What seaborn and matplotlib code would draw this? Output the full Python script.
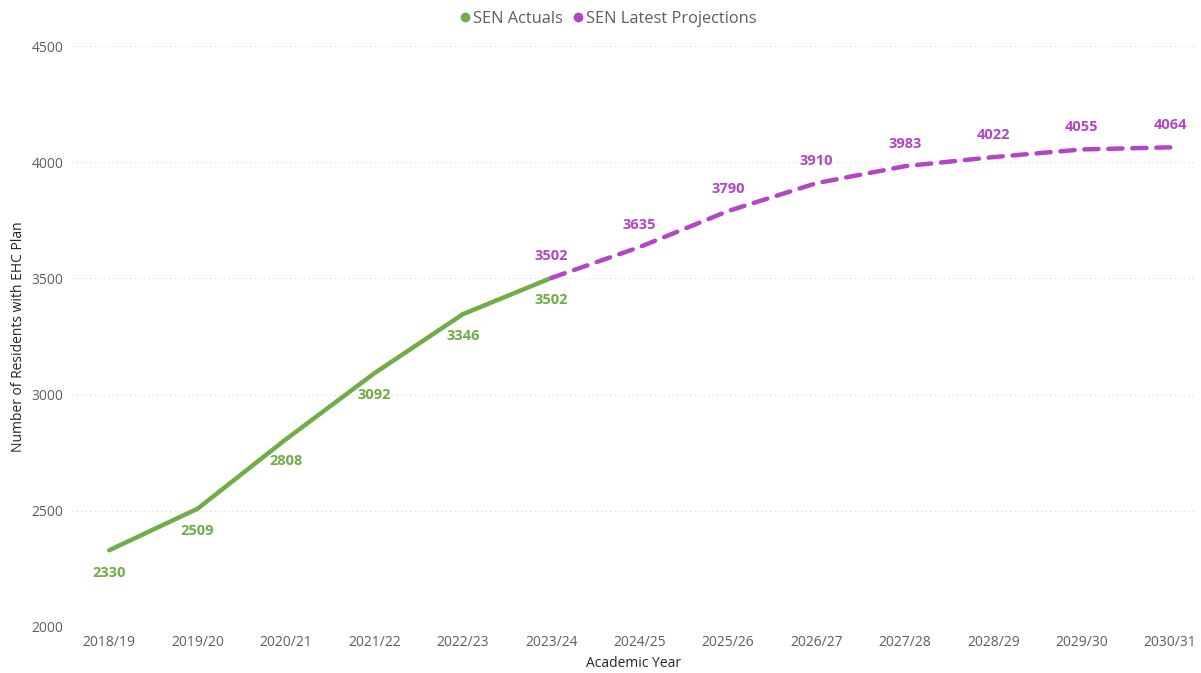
import matplotlib
matplotlib.use("Agg")
import matplotlib.pyplot as plt
import seaborn as sns
import pandas as pd
from matplotlib.lines import Line2D

years = ["2018/19", "2019/20", "2020/21", "2021/22", "2022/23", "2023/24", "2024/25",
         "2025/26", "2026/27", "2027/28", "2028/29", "2029/30", "2030/31"]
actual_years = years[:6]
actual_values = [2330, 2509, 2808, 3092, 3346, 3502]
proj_years = years[5:]
proj_values = [3502, 3635, 3790, 3910, 3983, 4022, 4055, 4064]

GREEN = "#70AD47"
PURPLE = "#B445C6"
GRAY = "#605E5C"

sns.set_theme(style="white")
plt.rcParams['font.family'] = ['Open Sans', 'DejaVu Sans']

fig = plt.figure(figsize=(12.01, 6.73), dpi=100)
ax = fig.add_axes([0.06, 0.0684, 0.935, 0.8632])

pos = {y: i for i, y in enumerate(years)}
df_a = pd.DataFrame({"x": [pos[y] for y in actual_years], "v": actual_values})
df_p = pd.DataFrame({"x": [pos[y] for y in proj_years], "v": proj_values})

sns.lineplot(data=df_a, x="x", y="v", ax=ax, color=GREEN, linewidth=3.2, solid_capstyle="round")
sns.lineplot(data=df_p, x="x", y="v", ax=ax, color=PURPLE, linewidth=3.2, dashes=False)
ax.lines[-1].set_linestyle((0, (3.2, 2.2)))
ax.lines[-1].set_dash_capstyle("round")

for x, v in zip(df_a["x"], df_a["v"]):
    ax.annotate(f"{v}", (x, v), xytext=(0, -11), textcoords="offset points",
                ha="center", va="top", color=GREEN, fontsize=10.5, fontweight="bold")
for x, v in zip(df_p["x"], df_p["v"]):
    ax.annotate(f"{v}", (x, v), xytext=(0, 11), textcoords="offset points",
                ha="center", va="bottom", color=PURPLE, fontsize=10.5, fontweight="bold")

ax.set_xlim(-0.42, 12.28)
ax.set_ylim(2000, 4500)
ax.set_xticks(range(len(years)))
ax.set_xticklabels(years)
ax.set_yticks([2000, 2500, 3000, 3500, 4000, 4500])
ax.tick_params(axis="both", colors=GRAY, labelsize=10, length=0, pad=6)
ax.yaxis.grid(True, color="#D6D6D6", linestyle=(0, (1, 3)), linewidth=0.8)
ax.xaxis.grid(False)
for s in ax.spines.values():
    s.set_visible(False)
ax.set_xlabel("Academic Year", color="#252423", fontsize=10, labelpad=4)
ax.set_ylabel("Number of Residents with EHC Plan", color="#252423", fontsize=10, labelpad=4)

handles = [Line2D([], [], marker="o", color=GREEN, linestyle="none", markersize=6),
           Line2D([], [], marker="o", color=PURPLE, linestyle="none", markersize=6)]
fig.legend(handles, ["SEN Actuals", "SEN Latest Projections"], loc="center",
           bbox_to_anchor=(0.505, 0.972), ncol=2, frameon=False, fontsize=11.8,
           handletextpad=0.0, columnspacing=0.4, handlelength=1.0, labelcolor=GRAY)

fig.savefig("out.png", dpi=100)
